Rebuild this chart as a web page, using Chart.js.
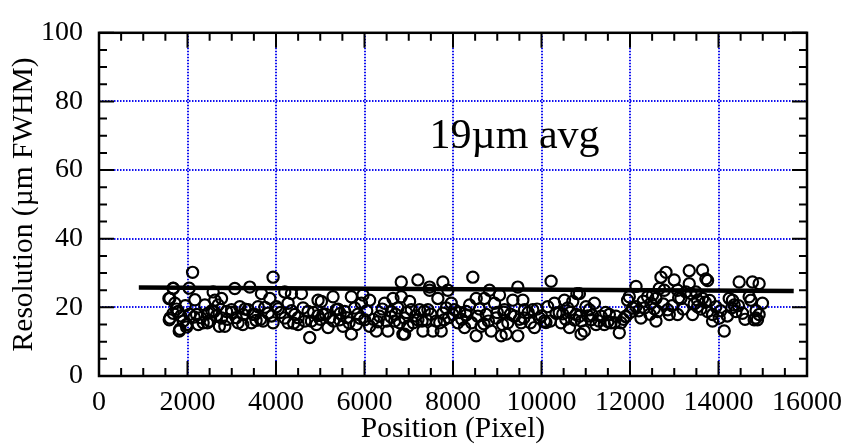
<!DOCTYPE html>
<html>
<head>
<meta charset="utf-8">
<script src="https://cdn.jsdelivr.net/npm/chart.js@4/dist/chart.umd.min.js"></script>
<style>
html,body{margin:0;padding:0;background:#fff;}
#wrap{width:853px;height:446px;position:relative;}
</style>
</head>
<body>
<div id="wrap"><canvas id="c" width="853" height="446"></canvas></div>
<script>
// ---- data ----
const xTickLabels = [0, 2000, 4000, 6000, 8000, 10000, 12000, 14000, 16000];
const yTickLabels = [0, 20, 40, 60, 80, 100];
const xTitle = "Position (Pixel)";
const yTitle = "Resolution (\u00b5m FWHM)";
const noteText = "19\u00b5m avg";

const posX = [
 1580,1677,1588,1813,1979,2115,1677,2038,1602,1715,1602,1677,1790,1828,1979,1903,2167,2205,2242,2354,2392,2467,2505,2618,2580,2693,2769,2769,2844,2882,3069,2995,3144,3182,3257,3370,3408,3445,3521,3596,3671,3709,3822,3860,3934,3934,4010,
 4198,4273,4349,4575,4198,4273,4424,4499,4612,4725,4762,4800,4913,4950,5026,5063,5176,5214,5289,5364,5439,5514,5552,5703,5703,5778,5816,5929,5966,6004,6116,6116,6267,6342,6455,6530,6606,6643,6681,6755,6831,6831,6868,6794,
 7207,7471,7471,7771,7884,7658,7019,7057,6906,6981,6906,7207,7245,7320,7396,7433,7546,7621,7734,7771,7847,7960,7997,8035,8110,8261,8298,8374,8448,8524,8524,8561,8637,8712,8750,8825,8863,8938,8975,9051,9089,9163,9202,9239,9352,9390,9465,9465,9540,9578,9616,
 10217,10856,10800,12136,9802,9841,9953,10066,10141,10292,10330,10443,10518,10593,10631,10706,10781,10856,10894,10969,11006,11082,11120,11195,11232,11345,11420,11533,11571,11683,11758,11796,11908,11946,11984,12059,12134,12247,12323,12398,12473,12510,
 12700,12813,13000,13339,13639,13715,13753,13339,12662,12587,12775,13075,13151,13264,13377,13489,13527,13640,12624,12587,12850,12888,13075,13414,13527,13753,13866,13866,13941,14016,14129,14242,14317,14354,14467,14392,14542,14693,14731,14768,14918,14843,14806,14881,14993,14918,
 1750,1850,1950,2050,2300,2450,2550,2650,2720,2900,3000,3100,3250,3300,3480,3650,3750,3900,4100,4350,4500,4650,4850,5000,5120,5300,5400,5600,5650,5850,6050,6200,6400,6500,6700,6950,7100,7150,7300,7500,7700,7900,8150,8200,8420,8600,8800,9000,9120,9300,9500,9700,9750,9900,10000,10200,10400,10550,10650,10900,11050,11300,11450,11650,11850,12000,12200,12450,12750,12950,13200,13450,13600,13800,14050,14200,14450,14600,14850,
 2150,2600,3550,4050,4400,4950,5450,5900,6300,6600,7350,7800,8300,8700,9150,9600,10100,10480,10750,11150,11500,11900,12300,12550,13100,13700,14300
];
const resY = [
 22.6,25.5,16.4,13.1,14.3,30.2,25.6,25.6,22.6,21.2,16.9,18.3,18.8,13.6,15.0,16.0,22.2,17.9,15.0,15.5,20.7,18.3,16.0,22.1,24.5,20.7,22.6,16.9,14.5,18.8,25.5,19.3,15.5,20.2,17.9,19.3,25.9,15.5,17.9,20.2,24.0,16.0,18.3,22.6,28.8,15.5,20.2,
 24.5,21.2,24.0,24.0,16.9,15.5,17.9,15.0,19.8,18.8,11.2,16.0,15.0,22.1,21.7,17.9,14.1,16.9,23.1,19.3,16.4,14.5,18.8,23.1,12.2,19.8,15.0,21.2,23.6,16.4,22.1,14.5,13.1,17.4,21.2,13.1,18.8,22.6,16.0,19.8,27.4,23.1,12.2,15.5,
 28.0,25.9,25.0,27.4,25.0,22.6,21.7,19.3,16.9,14.5,12.2,16.4,19.3,13.1,16.4,19.3,13.1,16.0,13.1,18.3,19.8,21.2,17.9,19.3,15.5,14.1,18.8,20.7,28.8,22.6,11.7,17.4,14.5,22.6,17.9,25.0,13.1,21.2,16.9,23.6,11.7,19.3,12.2,15.5,22.1,17.4,25.9,11.7,15.5,22.1,19.3,
 27.6,24.0,24.0,26.1,19.3,14.1,16.9,16.0,20.2,21.2,18.3,15.5,22.1,19.8,14.1,21.7,17.9,17.4,12.2,13.1,20.2,19.3,16.4,21.2,15.0,17.4,15.0,17.9,15.5,17.4,12.6,15.5,17.4,22.1,23.1,19.8,20.2,16.9,19.8,23.1,21.2,23.6,
 28.8,30.2,28.0,30.7,30.9,28.3,27.8,26.9,25.5,22.6,25.0,25.0,22.6,24.5,24.0,24.5,22.1,22.6,18.8,16.0,19.3,17.9,17.9,17.9,20.2,18.8,17.9,16.0,20.2,16.9,13.1,22.6,22.1,20.7,27.4,18.8,18.3,23.1,22.1,27.4,26.9,16.9,16.4,16.4,21.2,17.9,
 19.5,17.5,20.5,18,17,15.5,19,17.5,14.5,16.5,18.5,17,15,19.5,18,16.5,20,17.5,18.5,19,17,16,18.5,16.5,18,16,19.5,17,15.5,18,19,16.5,19.5,16,18,18.5,15.5,17.5,16,18,15.5,17,18.5,16.5,15.5,19.5,16,18.5,15,18,16.5,18.5,15.5,19.5,17.5,16,18.5,16.5,18.5,16,17.5,16,18.5,15.5,16.5,18.5,19,18,21,20.5,19.5,21,19.5,22,19,17.5,20.5,16.5,19,
 17.2,18.8,16.2,19.6,15.4,17.6,18.2,16.8,15.8,17.2,18.9,16.4,17.8,15.2,18.6,16.9,15.6,18.1,16.3,17.7,15.9,17.3,21.8,19.6,22.8,21.5,19.9
];
const fitX = [900, 15700];
const fitY = [25.8, 24.8];
const notePos = {x: 7470, y: 66.4};

// ---- chart ----
const pts = posX.map((x, i) => ({x: x, y: resY[i]}));
const fitPts = fitX.map((x, i) => ({x: x, y: fitY[i]}));
const serif = "'Liberation Serif', 'Times New Roman', serif";

const frameTicks = {
  id: 'frameTicks',
  afterDraw(chart) {
    const {ctx, chartArea: a, scales: {x, y}} = chart;
    ctx.save();
    ctx.strokeStyle = '#000';
    ctx.lineCap = 'butt';
    ctx.lineWidth = 2;
    for (let v = 0; v <= 16000; v += 500) {
      const px = x.getPixelForValue(v);
      const len = (v % 2000 === 0) ? 15 : 8;
      ctx.beginPath();
      ctx.moveTo(px, a.bottom); ctx.lineTo(px, a.bottom - len);
      ctx.moveTo(px, a.top); ctx.lineTo(px, a.top + len);
      ctx.stroke();
    }
    for (let v = 0; v <= 100; v += 5) {
      const py = y.getPixelForValue(v);
      const len = (v % 20 === 0) ? 15 : 8;
      ctx.beginPath();
      ctx.moveTo(a.left, py); ctx.lineTo(a.left + len, py);
      ctx.moveTo(a.right, py); ctx.lineTo(a.right - len, py);
      ctx.stroke();
    }
    ctx.lineWidth = 2.5;
    ctx.strokeRect(a.left, a.top, a.right - a.left, a.bottom - a.top);
    ctx.fillStyle = '#000';
    ctx.font = '42px ' + serif;
    ctx.textAlign = 'left';
    ctx.textBaseline = 'alphabetic';
    ctx.fillText(noteText, x.getPixelForValue(notePos.x), y.getPixelForValue(notePos.y));
    ctx.restore();
  }
};

new Chart(document.getElementById('c'), {
  type: 'scatter',
  data: {
    datasets: [
      {
        data: pts,
        showLine: false,
        pointStyle: 'circle',
        pointRadius: 5.6,
        pointBorderWidth: 2.2,
        pointBackgroundColor: 'rgba(0,0,0,0)',
        pointBorderColor: '#000',
        borderColor: '#000'
      },
      {
        data: fitPts,
        showLine: true,
        pointRadius: 0,
        borderColor: '#000',
        borderWidth: 4.5,
        fill: false
      }
    ]
  },
  options: {
    responsive: false,
    animation: false,
    devicePixelRatio: 1,
    layout: {padding: {top: 25, right: 46, left: 0, bottom: 0}},
    plugins: {legend: {display: false}, tooltip: {enabled: false}},
    scales: {
      x: {
        type: 'linear', min: 0, max: 16000,
        afterBuildTicks(s) { s.ticks = xTickLabels.map(v => ({value: v})); },
        afterFit(s) { s.height = 70; },
        ticks: {color: '#000', font: {family: serif, size: 28}, padding: 10, maxRotation: 0, autoSkip: false,
                callback: v => String(v)},
        grid: {color: '#1010f0', lineWidth: 2, drawTicks: false},
        border: {display: false, dash: [1.5, 1.5]},
        title: {display: true, text: xTitle, color: '#000', font: {family: serif, size: 29.5}, padding: {top: 0, bottom: -1}}
      },
      y: {
        type: 'linear', min: 0, max: 100,
        afterBuildTicks(s) { s.ticks = yTickLabels.map(v => ({value: v})); },
        afterFit(s) { s.width = 99; },
        ticks: {color: '#000', font: {family: serif, size: 28}, padding: 16, autoSkip: false},
        grid: {color: '#1010f0', lineWidth: 2, drawTicks: false},
        border: {display: false, dash: [1.5, 1.5]},
        title: {display: true, text: yTitle, color: '#000', font: {family: serif, size: 29.5}, padding: {top: 7, bottom: 0}}
      }
    }
  },
  plugins: [frameTicks]
});
</script>
</body>
</html>
